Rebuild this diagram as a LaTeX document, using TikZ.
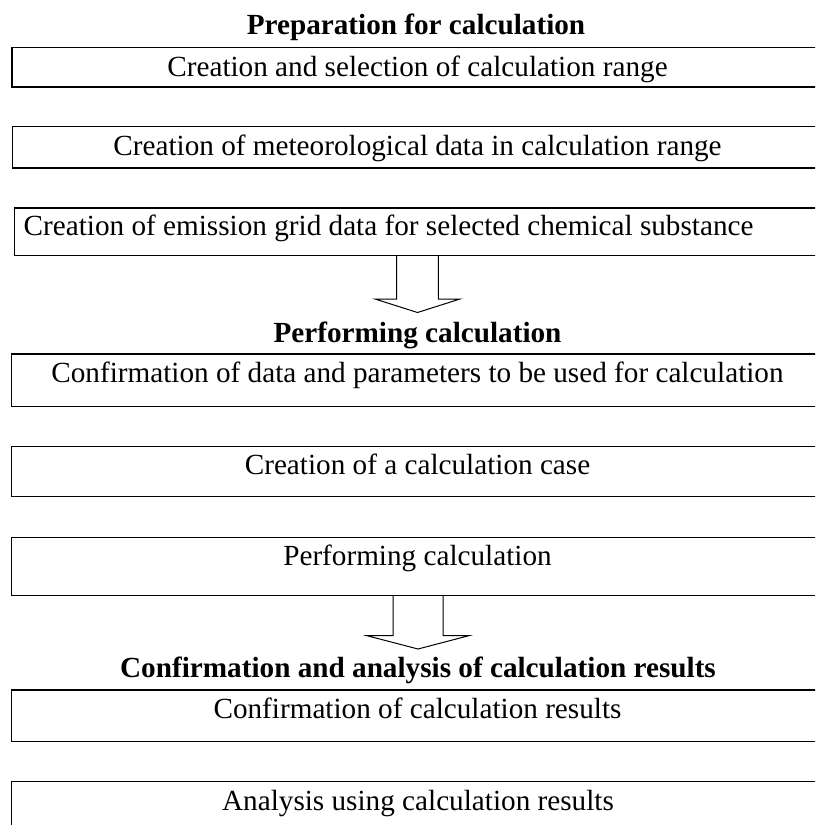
\documentclass[tikz,border=0pt]{standalone}
\usepackage{fontspec}
\setmainfont{Liberation Serif}
\usetikzlibrary{calc}
\begin{document}
\begin{tikzpicture}[x=1pt,y=-1pt,
  box/.style={draw, line width=1.5pt, anchor=north west, minimum width=811pt, inner sep=0pt, outer sep=0pt},
  txt/.style={anchor=base, inner sep=0pt, font=\fontsize{29.2}{34}\selectfont},
  ttl/.style={anchor=base, inner sep=0pt, font=\fontsize{29.2}{34}\selectfont\bfseries},
  barrow/.style={draw, line width=1pt, line join=miter}]
\useasboundingbox (0,0) rectangle (815,825);
\clip (0,0) rectangle (815,825);

% section 1
\node[ttl] (ttl1) at (416,34.3) {Preparation for calculation};
\node[box, minimum height=39.7pt] (b1) at (12,47.3) {};
\node[txt] (t1) at (417.5,76) {Creation and selection of calculation range};
\node[box, minimum height=41.3pt] (b2) at (12.7,126.7) {};
\node[txt] (t2) at (417.5,155) {Creation of meteorological data in calculation range};
\node[box, minimum height=47.3pt] (b3) at (14.7,208) {};
\node[txt, anchor=base west] (t3) at (23.5,235) {Creation of emission grid data for selected chemical substance};

% section 2
\node[ttl] (ttl2) at (417.5,342.7) {Performing calculation};
\node[box, minimum height=52.7pt] (b4) at (11.7,354) {};
\node[txt] (t4) at (417.5,382) {Confirmation of data and parameters to be used for calculation};
\node[box, minimum height=50pt] (b5) at (11.7,446.7) {};
\node[txt] (t5) at (417.5,474) {Creation of a calculation case};
\node[box, minimum height=58pt] (b6) at (11.7,537.7) {};
\node[txt] (t6) at (417.5,565) {Performing calculation};

% section 3
\node[ttl] (ttl3) at (418,677.7) {Confirmation and analysis of calculation results};
\node[box, minimum height=51.7pt] (b7) at (11.7,690) {};
\node[txt] (t7) at (417.5,718) {Confirmation of calculation results};
\node[box, minimum height=80pt] (b8) at (11.7,781.7) {};
\node[txt] (t8) at (418,810) {Analysis using calculation results};

% block arrows
\coordinate (a1) at (b3.south -| ttl2.base);
\draw[barrow] ($(a1)+(-20.8,0)$) -- ($(a1)+(-20.8,43.7)$) -- ($(a1)+(-42.5,43.7)$)
  -- ($(a1)+(0,57.2)$) -- ($(a1)+(42.5,43.7)$) -- ($(a1)+(20.8,43.7)$) -- ($(a1)+(20.8,0)$);
\coordinate (a2) at (b6.south -| ttl3.base);
\draw[barrow] ($(a2)+(-25,0)$) -- ($(a2)+(-25,40)$) -- ($(a2)+(-51,40)$)
  -- ($(a2)+(0,53.3)$) -- ($(a2)+(50.8,40)$) -- ($(a2)+(25,40)$) -- ($(a2)+(25,0)$);
\end{tikzpicture}
\end{document}
